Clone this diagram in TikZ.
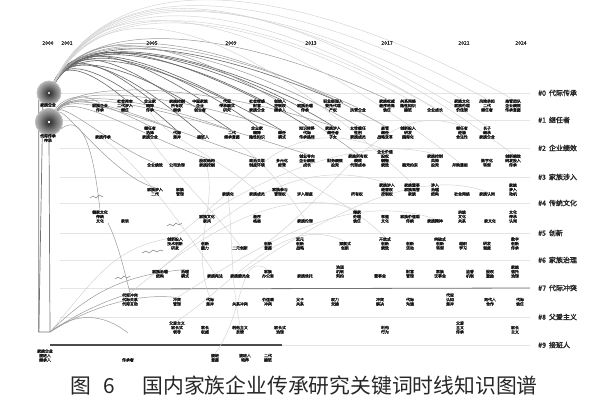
\documentclass[tikz,border=0pt]{standalone}
\usepackage{fontspec}
\setmainfont{Noto Sans CJK SC}
\newfontfamily\kwfont[FakeBold=2]{Noto Sans CJK SC}
\usetikzlibrary{positioning,calc,backgrounds}

\begin{document}
\begin{tikzpicture}[x=1pt, y=-1pt,
    kw/.style={align=center, anchor=south, inner sep=0pt, text=black!90, font=\kwfont\fontsize{3.9}{4.4}\selectfont},
    clabel/.style={anchor=west, inner sep=0pt, text=black!85, font=\kwfont\fontsize{7}{8}\selectfont},
    year/.style={inner sep=0pt, text=black!80, font=\kwfont\fontsize{5}{6}\selectfont},
    hub/.style={circle, inner sep=0pt, minimum size=#1, inner color=black!85, outer color=black!30, draw=black!25, line width=0.8pt},
    hub/.default=24pt,
    track/.style={draw=black!10, line width=1pt},
    trunk/.style={draw=black!55, line width=0.7pt},
    arcdark/.style={draw=black!60, line width=0.6pt},
    arcmid/.style={draw=black!40, line width=0.5pt},
    arclight/.style={draw=black!18, line width=0.45pt},
    wiggle/.style={draw=black!50, line width=0.5pt}]

    \useasboundingbox (0,0) rectangle (600,410);

    % time axis
    \foreach \x/\yr [count=\i] in {48/2000, 67/2001, 152/2005, 231/2009, 311/2013, 387/2017, 464/2021, 521/2024}
        \node[year] (yr\i) at (\x,43) {\yr};

    % cluster labels
    \foreach \yy/\lab [count=\i from 0] in {93/代际传承, 120/继任者, 148/企业绩效, 177/家族涉入, 203/传统文化, 233/创新, 260/家族治理, 288/代际冲突, 317/父爱主义, 345/接班人}
        \node[clabel] (c\i) at (538,\yy) {\#\i\hspace{3pt}\lab};

    % hubs
    \node[hub=24pt] (hubA) at (49,93) {};
    \node[hub=27pt] (hubB) at (49,122) {};
    \fill[white] (hubA) circle (1.2);
    \fill[white] (hubB) circle (1.4);
    \node[kw, anchor=north] (hubAlab) at (48,103) {家族企业};
    \node[kw, anchor=north] (hubBlab) at (48,134) {代际传承\\传承};

    % keywords, row by row
    \foreach \x/\txt [count=\i] in {100/家族企业\\传承, 125/社会资本\\二代涉入\\继任, 150/企业家\\精神\\传承, 177/家族控制\\所有权\\继承, 200/中国家族\\企业\\创业者, 227/代际\\传承模式\\研究, 257/社会情感\\财富\\家族企业, 280/创始人\\控制权\\继承人, 305/家族治理\\传承, 333/职业经理人\\委托代理\\产权, 358/民营企业, 387/家族权威\\差序格局\\信任, 408/关系网络\\隐性知识\\接班, 435/企业成长, 462/家族文化\\家族伦理\\价值观, 487/风险承担\\二代\\继任者, 513/高管团队\\企业绩效\\传承意愿}
        \node[kw] (r0-\i) at (\x,112) {\txt};
    \foreach \x/\txt [count=\i] in {103/家族传承, 150/继任者\\选择\\家族企业, 177/代际\\差异, 203/接班人, 232/二代\\继承意愿, 257/企业家\\精神\\隐性知识, 282/继任\\模式, 307/知识转移\\代际\\传承路径, 333/家族涉入\\继任者\\子女, 358/女性继任\\性别\\家族成员, 385/高管\\继任\\战略变革, 408/创新投入\\研发\\国际化, 462/继任者\\经验\\合法性, 487/长子\\继承\\家族企业}
        \node[kw] (r1-\i) at (\x,139) {\txt};
    \foreach \x/\txt [count=\i] in {155/企业绩效, 177/公司治理, 207/股权结构\\家族控制, 257/政治关联\\制度环境, 282/多元化\\经营, 307/创业导向\\企业绩效\\成长, 335/财务绩效\\投资, 358/家族所有权\\绩效\\代理成本, 385/企业价值\\股权\\制衡\\绩效, 410/融资约束, 435/家族控制\\风险\\投资, 460/并购重组, 487/数字化\\转型, 513/创新绩效\\研发投入\\传承}
        \node[kw] (r2-\i) at (\x,167) {\txt};
    \foreach \x/\txt [count=\i] in {155/家族涉入\\二代, 180/家族\\管理, 228/家族化, 257/家族成员, 280/家族参与\\管理权, 305/涉入程度, 357/所有权, 387/家族涉入\\经营权\\控制权, 412/家族董事\\家族高管\\家族, 435/涉入\\治理\\结构, 462/社会网络, 487/家族认同, 513/家族\\涉入\\动机}
        \node[kw] (r3-\i) at (\x,196) {\txt};
    \foreach \x/\txt [count=\i] in {100/儒家文化\\传统\\文化, 125/家训, 207/家族文化\\家风, 257/差序\\格局, 305/家族伦理, 357/儒家\\伦理\\信任, 385/孝道\\文化, 410/家族价值观\\传统, 435/家族精神, 462/宗族\\文化\\关系, 490/家文化, 513/文化\\传承\\认同}
        \node[kw] (r4-\i) at (\x,223) {\txt};
    \foreach \x/\txt [count=\i] in {175/创新投入\\技术创新\\研发, 205/创新\\能力, 240/二元创新, 268/创新\\意愿, 300/双元\\创新\\战略, 345/探索式\\创新, 385/开放式\\创新\\绩效, 410/创新\\活动, 440/突破式\\创新\\转型, 463/组织\\学习, 487/研发\\强度, 515/数字\\创新\\传承}
        \node[kw] (r5-\i) at (\x,250) {\txt};
    \foreach \x/\txt [count=\i] in {160/家族治理\\结构, 185/治理\\模式, 215/家族宪法, 240/家族委员会, 268/家族\\办公室, 305/家族信托, 340/治理\\机制\\契约, 380/董事会, 410/财富\\管理, 440/家族\\议事会, 470/监督\\机制, 490/股权\\激励, 515/家族\\信托\\治理}
        \node[kw] (r6-\i) at (\x,278) {\txt};
    \foreach \x/\txt [count=\i] in {130/代际冲突\\代际关系\\代际互动, 177/冲突\\管理, 210/代际\\差异, 240/关系冲突, 268/价值观\\冲突, 300/父子\\关系, 335/权力\\交接, 380/冲突\\解决, 410/代际\\沟通, 450/代际\\认知\\差异, 490/两代人\\合作, 520/代际\\信任}
        \node[kw] (r7-\i) at (\x,306) {\txt};
    \foreach \x/\txt [count=\i] in {177/父爱主义\\家长式\\领导, 205/家长\\权威, 240/利他主义\\亲情, 280/家长式\\治理, 385/利他\\行为, 460/父爱\\主义\\传承, 515/家长\\主义}
        \node[kw] (r8-\i) at (\x,334) {\txt};
    \foreach \x/\txt [count=\i] in {45/家族企业\\接班人\\继承人, 128/传承者, 215/接班\\意愿, 245/接班人\\培养, 268/二代\\接班}
        \node[kw] (r9-\i) at (\x,362) {\txt};

    \coordinate (foot) at (50,332);
    \coordinate (footL) at (hubA.215 |- foot);
    \coordinate (hump) at (128,333);
    \coordinate (t7) at (129,289);
    \coordinate (t9) at (50,345);
    \coordinate (t9e) at (282,345);

    \node[anchor=west, inner sep=0pt, text=black!85, font=\fontsize{20.8}{22}\selectfont] (caption) at (70,386) {图\hspace{13pt}6\hspace{27pt}国内家族企业传承研究关键词时线知识图谱};

    \begin{scope}[on background layer]
        % timelines
        \foreach \yy [count=\i from 0] in {93,120,148,177,203,233,260,288,317,345}
            \draw[track] (60,\yy) -- ([xshift=-8pt]c\i.west);
        \draw[black!55, line width=0.8pt] (t7) -- ([xshift=-8pt]c7.west);
        \draw[black!70, line width=1.3pt] (t9) -- (t9e);

        % trunk on the left
        \draw[trunk] (hubA.215) -- (footL) -- (foot) -- (hubB.south);
        \draw[trunk] (hubA.240) -- (footL);

        % arcs from the first hub
        \foreach \tg/\ha/\hb/\hc/\hd in {r0-2/15/35/30/25, r0-3/20/45/45/35, r0-4/25/50/60/40, r0-5/25/55/70/45, r0-6/30/55/90/45, r0-7/30/60/100/50, r0-8/35/60/110/50, r0-9/35/62/120/55, r0-10/40/65/130/55, r1-3/20/45/50/45, r1-4/25/50/70/60, r1-5/25/50/80/55, r1-6/30/55/100/70, r1-7/30/55/110/65, r1-8/30/60/120/75, r1-9/35/60/130/80}
            \draw[arcdark] (hubA) .. controls +(\ha,-\hb) and +(-\hc,-\hd) .. (\tg.north);
        \foreach \tg/\ha/\hb/\hc/\hd in {r0-11/40/72/140/65, r0-12/45/78/150/70, r1-10/40/72/140/80, r1-11/45/80/150/85, r2-8/45/80/150/110}
            \draw[arcmid] (hubA) .. controls +(\ha,-\hb) and +(-\hc,-\hd) .. (\tg.north);
        \foreach \tg/\ha/\hb/\hc/\hd in {r0-13/50/100/160/90, r0-14/55/110/170/95, r0-15/60/120/180/100, r0-16/60/130/190/105, r0-17/70/140/200/110, r1-13/60/120/180/120, r1-14/65/130/190/125, r2-12/60/125/180/140, r2-14/70/140/200/150, r3-9/60/110/170/160}
            \draw[arclight] (hubA) .. controls +(\ha,-\hb) and +(-\hc,-\hd) .. (\tg.north);

        % arcs from the second hub
        \foreach \tg/\ha/\hb/\hc/\hd in {r0-1/10/20/20/15, r1-2/20/30/50/25, r1-3/20/30/60/25, r1-5/25/35/80/30, r1-7/25/40/100/35, r1-9/30/45/120/40, r2-1/15/20/40/15, r2-3/25/30/70/25, r2-4/25/35/90/30, r2-6/30/40/110/35, r3-1/15/15/40/10}
            \draw[arcmid] (hubB) .. controls +(\ha,-\hb) and +(-\hc,-\hd) .. (\tg.north);
        \draw[arcmid] (hubB.-30) .. controls +(25,-20) and +(-5,-45) .. (r4-1.north);
        \draw[arcmid] (r4-1.south east) .. controls +(10,20) and +(-5,-20) .. (r7-1.north);

        % arcs from the foot of the trunk
        \draw[arcmid] (foot) .. controls +(40,-40) and +(-60,5) .. (r6-2.north);
        \draw[arcmid] (foot) .. controls +(40,-25) and +(-40,-5) .. (r7-2.north);
        \draw[arcmid] (foot) .. controls +(30,-20) and +(-30,10) .. (r7-1.north);
        \draw[arclight] (foot) .. controls +(50,-60) and +(-60,10) .. (r5-1.north);
        \draw[arcmid] (foot) .. controls +(25,-20) and +(-25,-20) .. (hump);

        % links between clusters
        \draw[arclight] (r1-1.south) .. controls +(30,20) and +(-40,-60) .. (r6-3.north);
        \draw[arclight] (r0-3.south) .. controls +(15,25) and +(-30,-30) .. (r3-4.north);
        \draw[arclight] (r1-2.south) .. controls +(20,30) and +(-30,-40) .. (r5-3.north);
        \draw[arclight] (r2-3.south) .. controls +(10,40) and +(-20,-50) .. (r7-3.north);
        \draw[arclight] (r3-3.south) .. controls +(5,40) and +(-10,-50) .. (r8-3.north);
        \draw[arclight] (r1-5.south) .. controls +(30,20) and +(-20,-30) .. (r4-5.north);
        \draw[arclight] (r2-5.south) .. controls +(30,20) and +(-30,-30) .. (r5-7.north);
        \draw[arclight] (r7-1.north) .. controls +(60,-50) and +(-80,-30) .. (r4-6.north);
        \draw[arclight] (r6-1.north) .. controls +(70,-60) and +(-90,-30) .. (r3-8.north);
        \draw[arclight] (r8-1.north) .. controls +(60,-40) and +(-60,-30) .. (r5-6.north);
        \draw[arclight] (r7-2.north) .. controls +(80,-50) and +(-90,-30) .. (r4-9.north);
        \draw[arclight] (r5-1.north) .. controls +(80,-60) and +(-100,-40) .. (r2-9.north);
        \draw[arclight] (r9-3.north) .. controls +(30,-40) and +(-30,-20) .. (r6-5.north);
        \draw[arclight] (r4-3.north) .. controls +(60,-40) and +(-70,-20) .. (r2-11.north);
        \draw[arclight] (r6-4.north) .. controls +(60,-40) and +(-80,-30) .. (r3-12.north);
        \draw[arclight] (r5-4.north) .. controls +(70,-50) and +(-80,-30) .. (r1-13.north);
    \end{scope}

    % small bursts
    \draw[wiggle] plot coordinates {(90,198) (93,196) (96,198) (99,195) (103,197)};
    \draw[wiggle] plot coordinates {(167,226) (170,224) (173,226) (176,223) (179,225) (182,223)};
    \draw[wiggle] plot coordinates {(142,253) (146,251) (149,253) (153,250) (157,252) (160,250) (163,251)};
    \draw[wiggle] plot coordinates {(115,279) (118,277) (121,279) (124,276) (127,278) (130,276)};
\end{tikzpicture}
\end{document}
